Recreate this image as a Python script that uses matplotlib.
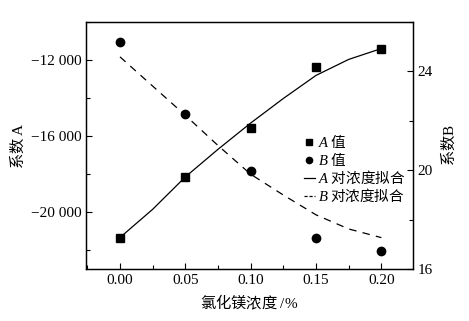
import matplotlib
matplotlib.use("Agg")
import matplotlib.pyplot as plt
from matplotlib.ticker import MultipleLocator, FuncFormatter
from matplotlib.lines import Line2D

plt.rcParams['font.family'] = ['Liberation Serif', 'Noto Sans CJK SC', 'DejaVu Sans']
plt.rcParams['mathtext.fontset'] = 'custom'
plt.rcParams['mathtext.it'] = 'Liberation Serif:italic'
plt.rcParams['mathtext.rm'] = 'Liberation Serif'

# measured points
conc = [0.00, 0.05, 0.10, 0.15, 0.20]
coef_a = [-21330, -18130, -15590, -12370, -11420]
coef_b = [25.18, 22.29, 19.97, 17.25, 16.73]

# fitted curves
fit_x = [0.0, 0.025, 0.05, 0.075, 0.10, 0.125, 0.15, 0.175, 0.20]
fit_a = [-21330, -19850, -18150, -16700, -15320, -14030, -12820, -11980, -11410]
fit_b = [24.58, 23.40, 22.22, 21.00, 19.84, 19.00, 18.20, 17.63, 17.28]

cjk = 'Noto Sans CJK SC'

def thousands(v, pos):
    s = f"{abs(int(round(v))):,}".replace(",", " ")
    return ("\u2212" + s) if v < 0 else s

fig = plt.figure(figsize=(4.69, 3.21), dpi=100)
ax = fig.add_axes([0.1834, 0.161, 0.6966, 0.7714])
ax2 = ax.twinx()

ax.plot(fit_x, fit_a, color='black', lw=0.9)
ax.plot(conc, coef_a, 's', color='black', ms=5.5, ls='none')
ax2.plot(fit_x, fit_b, color='black', lw=0.9, ls=(0, (6, 5)))
ax2.plot(conc, coef_b, 'o', color='black', ms=6, ls='none')

ax.set_xlim(-0.026, 0.224)
ax.set_ylim(-23000, -10000)
ax2.set_ylim(16, 26)

ax.xaxis.set_major_locator(MultipleLocator(0.05))
ax.xaxis.set_minor_locator(MultipleLocator(0.025))
ax.xaxis.set_major_formatter(FuncFormatter(lambda v, p: f"{v:.2f}"))
ax.yaxis.set_minor_locator(MultipleLocator(2000))
ax.set_yticks([-20000, -16000, -12000])
ax.yaxis.set_major_formatter(FuncFormatter(thousands))
ax2.set_yticks([16, 20, 24])
ax2.yaxis.set_minor_locator(MultipleLocator(2))

for a in (ax, ax2):
    a.tick_params(which='both', direction='in', labelsize=11, width=0.8)
    a.tick_params(which='major', length=4)
    a.tick_params(which='minor', length=3)
    for sp in a.spines.values():
        sp.set_linewidth(0.9)
ax.tick_params(axis='x', which='both', top=False)

ax.set_xlabel('氯化镁浓度 $/\\%$', fontsize=11, family=cjk, labelpad=4)
ax.set_ylabel('系数 $\\mathrm{A}$', fontsize=11, family=cjk, labelpad=3)
ax2.set_ylabel('系数$\\mathrm{B}$', fontsize=11, family=cjk, labelpad=5)

handles = [
    Line2D([], [], marker='s', color='black', ls='none', ms=4.5),
    Line2D([], [], marker='o', color='black', ls='none', ms=4.5),
    Line2D([], [], color='black', lw=0.9),
    Line2D([], [], color='black', lw=0.9, ls=(0, (2.5, 1.5))),
]
labels = ['$A$ 值', '$B$ 值', '$A$ 对浓度拟合', '$B$ 对浓度拟合']
ax.legend(handles, labels, loc='upper left', bbox_to_anchor=(0.645, 0.585),
          frameon=False, handlelength=0.75, handletextpad=0.2, labelspacing=0.04,
          borderpad=0, prop={'family': cjk, 'size': 10.5})

fig.savefig('out.png', dpi=100)
